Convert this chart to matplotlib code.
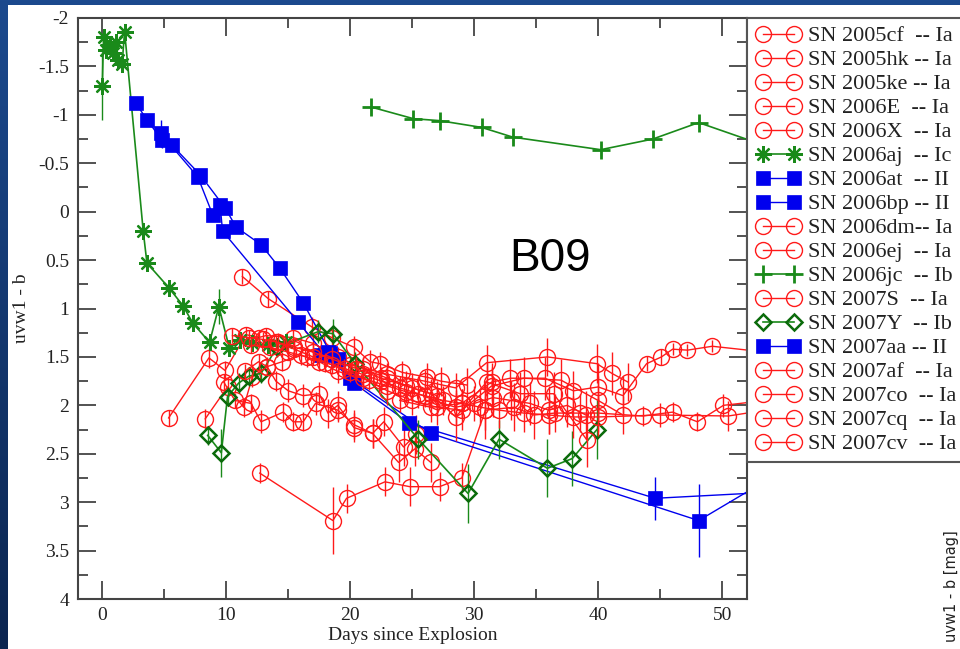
import numpy as np
import matplotlib
matplotlib.use("Agg")
import matplotlib.pyplot as plt
from matplotlib.patches import Rectangle
from matplotlib.lines import Line2D
from matplotlib.legend_handler import HandlerLine2D
from matplotlib.colors import LinearSegmentedColormap

plt.rcParams['axes.unicode_minus'] = False
SERIF = ['Liberation Serif', 'DejaVu Serif']

# ---------------- data: colour (uvw1 - b) vs days since explosion ----------------
# Type Ia (open red circles)
x_2005cf = [11.3, 13.4, 16.9, 18.5, 20.3, 21.6, 22.4, 24.2, 26.2, 27.3, 29.4]
y_2005cf = [0.67, 0.90, 1.19, 1.30, 1.40, 1.55, 1.57, 1.66, 1.71, 1.75, 1.79]
e_2005cf = [0.08, 0.08, 0.10, 0.10, 0.12, 0.12, 0.12, 0.12, 0.15, 0.15, 0.18]

x_2005hk = [5.35, 8.6, 9.9, 11.6, 12.6, 13.2, 15.4, 17.0, 19.0, 21.0, 23.0, 25.0, 27.0]
y_2005hk = [2.13, 1.51, 1.64, 1.27, 1.30, 1.28, 1.30, 1.36, 1.50, 1.62, 1.72, 1.82, 1.90]
e_2005hk = [0.08, 0.10, 0.10, 0.08, 0.08, 0.08, 0.08, 0.10, 0.10, 0.12, 0.12, 0.15, 0.15]

x_2005ke = [8.3, 10.1, 11.4, 12.1, 13.3, 14.0, 15.0, 16.2, 17.5, 18.2, 19.0, 20.3, 21.8, 22.7, 24.3, 25.3]
y_2005ke = [2.14, 1.81, 2.02, 1.71, 1.60, 1.75, 1.85, 1.90, 1.88, 2.08, 2.00, 2.23, 2.29, 2.17, 2.43, 2.30]
e_2005ke = [0.10, 0.10, 0.10, 0.10, 0.10, 0.10, 0.12, 0.12, 0.12, 0.15, 0.15, 0.15, 0.15, 0.15, 0.20, 0.20]

x_2006E = [12.7, 18.6, 19.7, 22.8, 24.8, 27.2, 29.0, 30.9]
y_2006E = [2.70, 3.19, 2.96, 2.79, 2.84, 2.84, 2.75, 2.05]
e_2006E = [0.10, 0.35, 0.15, 0.15, 0.20, 0.15, 0.15, 0.30]

x_2006X = [9.8, 10.7, 12.0, 12.8, 14.6, 15.4, 16.2, 17.2, 19.0, 20.3, 21.8, 23.9, 25.2, 26.5]
y_2006X = [1.76, 1.95, 1.98, 2.17, 2.07, 2.17, 2.17, 1.98, 2.05, 2.20, 2.29, 2.59, 2.45, 2.59]
e_2006X = [0.08, 0.08, 0.10, 0.12, 0.10, 0.10, 0.10, 0.12, 0.12, 0.15, 0.15, 0.20, 0.18, 0.20]

x_2006dm = [20.0, 23.0, 26.0, 28.5, 31.0, 35.9, 39.9, 41.1, 42.4]
y_2006dm = [1.58, 1.68, 1.75, 1.82, 1.56, 1.50, 1.57, 1.67, 1.76]
e_2006dm = [0.10, 0.12, 0.12, 0.15, 0.18, 0.20, 0.20, 0.22, 0.20]

x_2006ej = [24.0, 26.5, 29.0, 31.4, 32.9, 35.7, 38.0, 40.0, 42.0, 43.9, 45.1, 46.0, 47.2, 49.2, 53.5]
y_2006ej = [1.95, 2.02, 1.98, 1.76, 1.72, 1.72, 1.85, 1.81, 1.90, 1.57, 1.50, 1.42, 1.43, 1.39, 1.45]
e_2006ej = [0.12, 0.15, 0.15, 0.20, 0.20, 0.22, 0.20, 0.25, 0.20, 0.08, 0.08, 0.06, 0.06, 0.06, 0.06]

x_2007S = [30.9, 33.2, 34.8, 36.5, 38.5, 40.0, 43.6, 46.0, 48.0, 50.1, 53.5]
y_2007S = [2.05, 2.02, 2.10, 2.08, 2.08, 2.08, 2.11, 2.07, 2.17, 2.00, 1.95]
e_2007S = [0.20, 0.25, 0.25, 0.20, 0.20, 0.20, 0.10, 0.10, 0.10, 0.12, 0.10]

x_2007af = [14.0, 15.5, 17.0, 18.5, 20.0, 21.5, 23.0, 24.5, 26.0, 27.5, 29.0, 30.5, 32.0, 34.0, 36.0, 38.0, 40.0, 45.0, 50.5, 53.5]
y_2007af = [1.35, 1.42, 1.50, 1.58, 1.66, 1.74, 1.80, 1.86, 1.90, 1.95, 1.98, 2.02, 2.05, 2.08, 2.10, 2.12, 2.12, 2.10, 2.11, 2.05]
e_2007af = [0.08, 0.08, 0.08, 0.10, 0.10, 0.10, 0.12, 0.12, 0.12, 0.15, 0.15, 0.18, 0.18, 0.20, 0.20, 0.22, 0.20, 0.12, 0.15, 0.12]

x_2007co = [12.0, 13.5, 15.0, 16.5, 18.0, 19.5, 21.0, 22.5, 24.0, 25.5, 27.0, 28.5, 30.0, 31.5, 33.0, 34.5, 36.0, 37.5, 39.0]
y_2007co = [1.38, 1.40, 1.45, 1.50, 1.56, 1.62, 1.68, 1.75, 1.82, 1.88, 1.96, 2.02, 1.98, 1.92, 1.95, 1.98, 2.05, 2.00, 2.10]
e_2007co = [0.08, 0.08, 0.08, 0.10, 0.10, 0.10, 0.12, 0.12, 0.12, 0.15, 0.15, 0.18, 0.18, 0.20, 0.20, 0.22, 0.25, 0.22, 0.25]

x_2007cq = [10.5, 11.8, 13.0, 14.2, 15.5, 17.0, 18.5, 20.5, 22.5, 24.5, 26.5, 28.5, 31.0, 33.7, 36.4, 39.1]
y_2007cq = [1.28, 1.30, 1.32, 1.35, 1.40, 1.45, 1.52, 1.62, 1.72, 1.80, 1.88, 2.12, 1.76, 1.88, 1.88, 2.36]
e_2007cq = [0.08, 0.08, 0.08, 0.10, 0.10, 0.10, 0.12, 0.12, 0.12, 0.15, 0.15, 0.25, 0.20, 0.22, 0.22, 0.28]

x_2007cv = [11.5, 12.6, 13.3, 14.5, 16.0, 17.5, 19.0, 21.0, 23.0, 25.0, 27.0, 29.0, 31.4, 34.0, 37.0, 40.0, 42.0]
y_2007cv = [1.65, 1.55, 1.60, 1.55, 1.48, 1.55, 1.65, 1.72, 1.85, 1.95, 2.02, 2.05, 1.80, 1.72, 1.74, 1.95, 2.10]
e_2007cv = [0.08, 0.08, 0.08, 0.10, 0.10, 0.10, 0.12, 0.12, 0.15, 0.15, 0.18, 0.20, 0.20, 0.22, 0.22, 0.25, 0.20]

# Type Ic (green asterisks)
x_2006aj = [0.0, 0.1, 0.3, 0.6, 0.9, 1.1, 1.3, 1.6, 1.8, 3.3, 3.6, 5.4, 6.5, 7.3, 8.65, 9.4, 10.25, 11.1, 12.1, 13.4, 14.8]
y_2006aj = [-1.30, -1.80, -1.67, -1.72, -1.64, -1.75, -1.57, -1.53, -1.86, 0.20, 0.53, 0.79, 0.97, 1.15, 1.35, 0.98, 1.41, 1.33, 1.36, 1.38, 1.35]
e_2006aj = [0.35, 0.05, 0.05, 0.05, 0.05, 0.05, 0.05, 0.05, 0.05, 0.06, 0.06, 0.06, 0.06, 0.06, 0.08, 0.18, 0.08, 0.08, 0.08, 0.08, 0.08]

# Type Ib (green plus signs and open diamonds)
x_2006jc = [21.7, 25.1, 27.2, 30.6, 33.1, 40.2, 44.4, 48.1, 53.5]
y_2006jc = [-1.08, -0.96, -0.94, -0.87, -0.77, -0.64, -0.75, -0.92, -0.68]
e_2006jc = [0.08, 0.06, 0.06, 0.06, 0.06, 0.06, 0.06, 0.06, 0.06]

x_2007Y = [8.5, 9.6, 10.1, 11.0, 11.8, 12.8, 14.1, 17.4, 18.6, 20.4, 25.5, 29.5, 32.0, 35.9, 37.9, 39.9]
y_2007Y = [2.31, 2.49, 1.91, 1.77, 1.70, 1.67, 1.40, 1.24, 1.26, 1.57, 2.35, 2.91, 2.35, 2.65, 2.55, 2.25]
e_2007Y = [0.10, 0.25, 0.10, 0.10, 0.10, 0.10, 0.10, 0.12, 0.15, 0.12, 0.20, 0.30, 0.20, 0.30, 0.28, 0.30]

# Type II (filled blue squares)
x_2006at = [2.7, 3.6, 4.8, 5.6, 7.9, 9.9, 10.8, 12.8, 14.3, 16.2, 18.4, 20.3, 24.7, 44.6, 53.5]
y_2006at = [-1.12, -0.95, -0.74, -0.69, -0.38, -0.04, 0.16, 0.34, 0.58, 0.94, 1.46, 1.77, 2.18, 2.96, 2.90]
e_2006at = [0.04, 0.04, 0.08, 0.04, 0.04, 0.04, 0.04, 0.04, 0.04, 0.05, 0.05, 0.05, 0.05, 0.22, 0.20]

x_2006bp = [4.7, 7.7, 8.9, 9.5, 9.7, 15.8, 18.0, 20.0, 26.5, 48.1, 53.5]
y_2006bp = [-0.81, -0.36, 0.03, -0.07, 0.20, 1.14, 1.48, 1.72, 2.29, 3.19, 2.78]
e_2006bp = [0.14, 0.04, 0.04, 0.04, 0.05, 0.05, 0.05, 0.05, 0.06, 0.38, 0.30]

x_2007aa = [17.6, 18.2, 19.0]
y_2007aa = [1.48, 1.45, 1.52]
e_2007aa = [0.05, 0.05, 0.05]

labels = ["SN 2005cf  -- Ia", "SN 2005hk -- Ia", "SN 2005ke -- Ia", "SN 2006E  -- Ia",
          "SN 2006X  -- Ia", "SN 2006aj  -- Ic", "SN 2006at  -- II", "SN 2006bp -- II",
          "SN 2006dm-- Ia", "SN 2006ej  -- Ia", "SN 2006jc  -- Ib", "SN 2007S  -- Ia",
          "SN 2007Y  -- Ib", "SN 2007aa -- II", "SN 2007af  -- Ia", "SN 2007co  -- Ia",
          "SN 2007cq  -- Ia", "SN 2007cv  -- Ia"]

x_ticks = [0, 10, 20, 30, 40, 50]
y_ticks = [-2, -1.5, -1, -0.5, 0, 0.5, 1, 1.5, 2, 2.5, 3, 3.5, 4]

# ---------------- styles ----------------
RED, GREEN, DKGREEN, BLUE = '#ff1a1a', '#1a8a1a', '#0b6b0b', '#0000ee'
sty_ia = dict(color=RED, marker='o', ms=11.5, mfc='none', mec=RED, mew=1.0, lw=1.0)
sty_ic = dict(color=GREEN, marker=(8, 2, 0), ms=12, mec=GREEN, mew=1.6, lw=1.2)
sty_jc = dict(color=GREEN, marker='+', ms=13, mec=GREEN, mew=2.0, lw=1.2)
sty_y = dict(color=GREEN, marker='D', ms=8.5, mfc='none', mec=DKGREEN, mew=1.8, lw=1.2)
sty_ii = dict(color=BLUE, marker='s', ms=10.5, mfc=BLUE, mec=BLUE, mew=0.5, lw=1.0)

series = [
    (x_2005cf, y_2005cf, e_2005cf, sty_ia),
    (x_2005hk, y_2005hk, e_2005hk, sty_ia),
    (x_2005ke, y_2005ke, e_2005ke, sty_ia),
    (x_2006E, y_2006E, e_2006E, sty_ia),
    (x_2006X, y_2006X, e_2006X, sty_ia),
    (x_2006aj, y_2006aj, e_2006aj, sty_ic),
    (x_2006at, y_2006at, e_2006at, sty_ii),
    (x_2006bp, y_2006bp, e_2006bp, sty_ii),
    (x_2006dm, y_2006dm, e_2006dm, sty_ia),
    (x_2006ej, y_2006ej, e_2006ej, sty_ia),
    (x_2006jc, y_2006jc, e_2006jc, sty_jc),
    (x_2007S, y_2007S, e_2007S, sty_ia),
    (x_2007Y, y_2007Y, e_2007Y, sty_y),
    (x_2007aa, y_2007aa, e_2007aa, sty_ii),
    (x_2007af, y_2007af, e_2007af, sty_ia),
    (x_2007co, y_2007co, e_2007co, sty_ia),
    (x_2007cq, y_2007cq, e_2007cq, sty_ia),
    (x_2007cv, y_2007cv, e_2007cv, sty_ia),
]

W, H = 960, 649
fig = plt.figure(figsize=(W / 100, H / 100), dpi=100)

# slide background with a white panel
bg = fig.add_axes([0, 0, 1, 1])
bg.set_axis_off()
cmap = LinearSegmentedColormap.from_list('slide', ['#0b2550', '#1c4a8e'])
grad = np.linspace(0, 1, 256).reshape(-1, 1)
bg.imshow(grad, cmap=cmap, origin='lower', aspect='auto', extent=[0, 1, 0, 1])
bg.add_patch(Rectangle((8 / W, 0), 1, 1 - 5 / H, transform=bg.transAxes,
                       facecolor='white', edgecolor='none'))
bg.set_xlim(0, 1)
bg.set_ylim(0, 1)

# axis label of the neighbouring panel, at the slide's right edge
fig.text(944 / W, 1 - 530 / H, "uvw1 - b [mag]", rotation=90, rotation_mode='anchor',
         ha='right', va='top', fontsize=10.5, color='#222222', family='DejaVu Sans')

L, R, T, B = 77.5, 747, 18, 599
ax = fig.add_axes([L / W, 1 - B / H, (R - L) / W, (B - T) / H])
ax.set_facecolor('white')

handles = []
for (xs, ys, es, st), lab in zip(series, labels):
    ax.errorbar(xs, ys, yerr=es, fmt='none', ecolor=st['color'], elinewidth=1.0, capsize=0)
    h, = ax.plot(xs, ys, label=lab, **st)
    handles.append(h)

ax.set_xlim(-2, 52)
ax.set_ylim(4, -2)
ax.set_xticks(x_ticks)
ax.set_xticks([5, 15, 25, 35, 45], minor=True)
ax.set_yticks(y_ticks)
ax.set_yticks(np.arange(-1.75, 4, 0.5), minor=True)
ax.set_yticklabels([f"{v:g}" for v in y_ticks])
ax.tick_params(which='both', direction='in', top=True, right=True, width=1.3, color='#444444',
               labelsize=14, labelcolor='#222222', pad=6)
ax.tick_params(which='major', length=13)
ax.tick_params(which='minor', length=7)
for lab in ax.get_xticklabels() + ax.get_yticklabels():
    lab.set_family(SERIF)
for sp in ax.spines.values():
    sp.set_color('#444444')
    sp.set_linewidth(1.5)

ax.set_xlabel("Days since Explosion", family=SERIF, fontsize=14, color='#222222', labelpad=2)
ax.set_ylabel("uvw1 - b", family=SERIF, fontsize=14, color='#222222', labelpad=6)

ax.text(36.1, 0.61, "B09", family='Liberation Sans', fontsize=33, ha='center', va='baseline',
        color='black')

leg = ax.legend(handles=handles, loc='upper left', bbox_to_anchor=(1.0, 1.0), borderaxespad=0,
                numpoints=2, handlelength=2.1, handletextpad=0.3, borderpad=0.35,
                labelspacing=0.155, fancybox=False, framealpha=1,
                handler_map={Line2D: HandlerLine2D(numpoints=2, marker_pad=0.35)},
                prop={'family': SERIF, 'size': 16})
leg.get_frame().set_edgecolor('#555555')
leg.get_frame().set_linewidth(1.5)
for t in leg.get_texts():
    t.set_color('#222222')

fig.savefig('out.png', dpi=100)
